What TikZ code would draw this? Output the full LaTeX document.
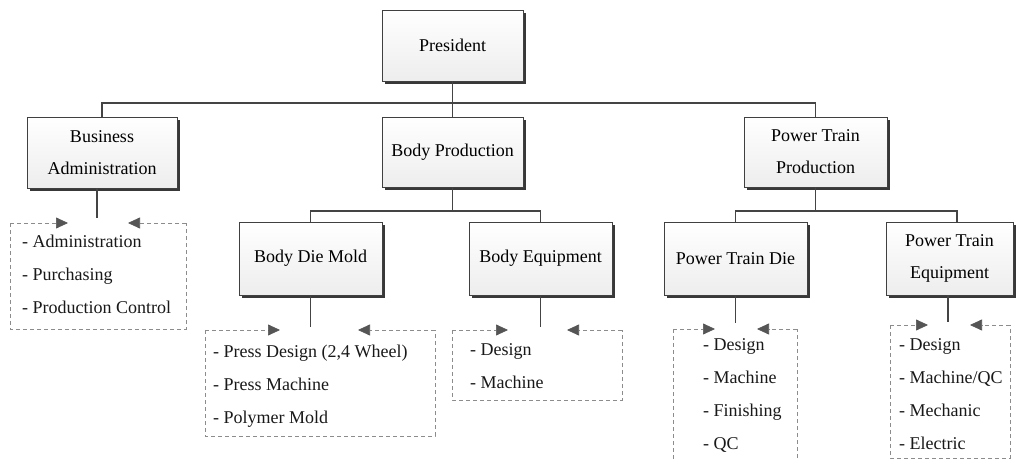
\documentclass[tikz,border=0pt]{standalone}
\usepackage{fontspec}
\setmainfont{Liberation Serif}
\usetikzlibrary{arrows.meta,shadows,calc}
\definecolor{linec}{HTML}{444444}
\definecolor{dashc}{HTML}{8C8C8C}
\definecolor{tipc}{HTML}{555555}
\tikzset{
  orgbox/.style={draw=black!75, line width=0.6pt, top color=white, bottom color=black!7,
    drop shadow={shadow xshift=3pt, shadow yshift=-3pt, fill=black!78, opacity=1},
    align=center, font=\fontsize{18}{32}\selectfont, text=black, inner sep=0pt},
  conn/.style={draw=linec, line width=1.5pt},
  listarea/.style={draw=none, inner sep=0pt, outer sep=0pt},
  dline/.style={draw=dashc, line width=0.7pt, dash pattern=on 4pt off 3pt},
  darrow/.style={dline, -{Triangle[length=12pt,width=11pt,color=tipc]}},
  item/.style={anchor=base west, inner sep=0pt, font=\fontsize{18}{22}\selectfont, text=black!90},
}
\begin{document}
\begin{tikzpicture}[x=1pt,y=-1pt]
\useasboundingbox (0,0) rectangle (1018,460);
\fill[white] (0,0) rectangle (1018,460);

% main boxes
\node[orgbox, minimum width=141pt, minimum height=71pt] (pres) at (452.5,45.5) {President};
\node[orgbox, minimum width=150pt, minimum height=71pt] (ba) at (102,152.5) {Business\\Administration};
\node[orgbox, minimum width=141pt, minimum height=70pt] (bp) at (452.5,152) {Body Production};
\node[orgbox, minimum width=143pt, minimum height=70pt] (ptp) at (815.5,152) {Power Train\\Production};
\node[orgbox, minimum width=143pt, minimum height=73pt] (bdm) at (310.5,258.5) {Body Die Mold};
\node[orgbox, minimum width=143pt, minimum height=73pt] (be) at (540.5,258.5) {Body Equipment};
\node[orgbox, minimum width=143pt, minimum height=73pt] (ptd) at (735.5,258.5) {Power Train Die};
\node[orgbox, minimum width=127pt, minimum height=73pt] (pte) at (949.5,258.5) {Power Train\\Equipment};

% tree connectors
\coordinate (bus1) at (452.5,103);
\coordinate (bus2) at (452.5,211);
\coordinate (bus3) at (815.5,211);
\coordinate (pteIn) at ($(pte.north)+(7.5,0)$);
\draw[conn] (pres.south) -- (bus1);
\draw[conn] (ba.north) -- (ba.north |- bus1) -- (ptp.north |- bus1) -- (ptp.north);
\draw[conn] (bus1) -- (bp.north);
\draw[conn] (bp.south) -- (bus2);
\draw[conn] (bdm.north) -- (bdm.north |- bus2) -- (be.north |- bus2) -- (be.north);
\draw[conn] (ptp.south) -- (bus3);
\draw[conn] (ptd.north) -- (ptd.north |- bus3) -- (pteIn |- bus3) -- (pteIn);

% list areas
\node[listarea, minimum width=176pt, minimum height=106pt] (bal) at (98,276) {};
\node[listarea, minimum width=230pt, minimum height=106pt] (bdml) at (320,383) {};
\node[listarea, minimum width=170pt, minimum height=70pt] (bel) at (537,365) {};
\node[listarea, minimum width=124pt, minimum height=146pt] (ptdl) at (735,402) {};
\node[listarea, minimum width=120pt, minimum height=133pt] (ptel) at (950,391.5) {};

% lead lines
\coordinate (baS) at ($(ba.south)+(-5,0)$);
\coordinate (baE) at (97,218);
\coordinate (bdmE) at (310.5,327);
\coordinate (beE) at (540.5,327);
\coordinate (ptdE) at (735.5,323);
\coordinate (pteS) at ($(pte.south)+(-1.5,0)$);
\coordinate (pteE) at (948,322);
\draw[conn] (baS) -- (baE);
\draw[conn] (bdm.south) -- (bdmE);
\draw[conn] (be.south) -- (beE);
\draw[conn] (ptd.south) -- (ptdE);
\draw[conn] (pteS) -- (pteE);

% dashed frames with arrows
\coordinate (baR) at (68,223);   \coordinate (baL) at (128,223);
\coordinate (bdmR) at (280,330); \coordinate (bdmL) at (358,330);
\coordinate (beR) at (508,330);  \coordinate (beL) at (567,330);
\coordinate (ptdR) at (715,329); \coordinate (ptdL) at (757,329);
\coordinate (pteR) at (928,325); \coordinate (pteL) at (970,325);
\foreach \l/\r/\q in {bal/baR/baL, bdml/bdmR/bdmL, bel/beR/beL, ptdl/ptdR/ptdL, ptel/pteR/pteL}{
  \draw[dline] (\l.north west) -- (\l.south west) -- (\l.south east) -- (\l.north east);
  \draw[darrow] (\l.north west) -- (\r);
  \draw[darrow] (\l.north east) -- (\q);
}

% list items
\foreach \t [count=\i] in {Administration, Purchasing, Production Control}
  \node[item] (bai\i) at (22,{247+33*(\i-1)}) {- \t};
\foreach \t [count=\i] in {{Press Design (2,4 Wheel)}, Press Machine, Polymer Mold}
  \node[item] (bdmi\i) at (213,{357+33*(\i-1)}) {- \t};
\foreach \t [count=\i] in {Design, Machine}
  \node[item] (bei\i) at (470,{355+33*(\i-1)}) {- \t};
\foreach \t [count=\i] in {Design, Machine, Finishing, QC}
  \node[item] (ptdi\i) at (703,{350+33*(\i-1)}) {- \t};
\foreach \t [count=\i] in {Design, Machine/QC, Mechanic, Electric}
  \node[item] (ptei\i) at (899,{350+33*(\i-1)}) {- \t};
\end{tikzpicture}
\end{document}
